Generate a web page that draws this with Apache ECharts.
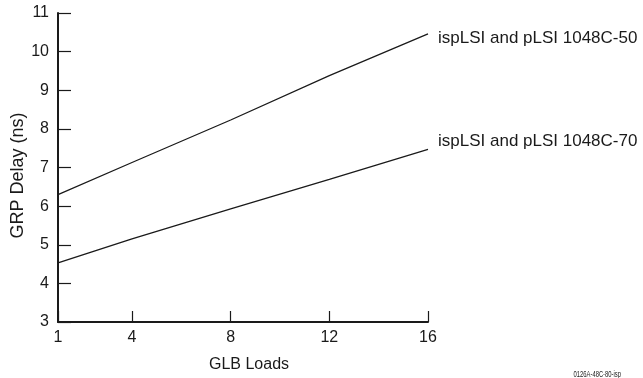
<!DOCTYPE html>
<html>
<head>
<meta charset="utf-8">
<script src="https://cdn.jsdelivr.net/npm/echarts@6/dist/echarts.min.js"></script>
<style>
html,body{margin:0;padding:0;background:#fff;}
#chart{width:643px;height:378px;}
</style>
</head>
<body>
<div id="chart"></div>
<script>
// Data
var glbLoads = [1, 4, 8, 12, 16];
var delay50 = [6.30, 7.13, 8.23, 9.38, 10.46];
var delay70 = [4.53, 5.15, 5.93, 6.69, 7.47];
var xTicks = [1, 4, 8, 12, 16];
var seriesNames = ['ispLSI and pLSI 1048C-50', 'ispLSI and pLSI 1048C-70'];
var xTitle = 'GLB Loads';
var yTitle = 'GRP Delay (ns)';
var footnote = '0126A-48C-80-isp';

var font = '"Liberation Sans", Arial, Helvetica, sans-serif';
var ink = '#1a1a1a';

function pairs(xs, ys) {
  return xs.map(function (x, i) { return [x, ys[i]]; });
}

var chart = echarts.init(document.getElementById('chart'), null, {renderer: 'canvas'});
chart.setOption({
  animation: false,
  backgroundColor: '#ffffff',
  grid: {left: 58, right: 215, top: 13, bottom: 56, containLabel: false, outerBoundsMode: 'none'},
  xAxis: {
    type: 'value',
    min: 1,
    max: 16,
    name: xTitle,
    nameLocation: 'middle',
    nameGap: 35,
    nameMoveOverlap: false,
    nameTextStyle: {fontFamily: font, fontSize: 16, color: ink, padding: [0, 0, 0, 12]},
    axisLine: {show: true, lineStyle: {color: ink, width: 2}},
    axisTick: {show: true, inside: true, length: 11, customValues: xTicks, lineStyle: {color: ink, width: 1.2}},
    axisLabel: {show: true, customValues: xTicks, margin: 8, fontFamily: font, fontSize: 16, color: ink},
    splitLine: {show: false}
  },
  yAxis: {
    type: 'value',
    min: 3,
    max: 11,
    interval: 1,
    name: yTitle,
    nameLocation: 'middle',
    nameGap: 31,
    nameMoveOverlap: false,
    nameTextStyle: {fontFamily: font, fontSize: 18, color: ink, padding: [0, 16, 0, 0]},
    axisLine: {show: true, lineStyle: {color: ink, width: 2}},
    axisTick: {show: true, inside: true, length: 13, lineStyle: {color: ink, width: 1.2}},
    axisLabel: {show: true, margin: 9, fontFamily: font, fontSize: 16, color: ink},
    splitLine: {show: false}
  },
  series: [
    {
      name: seriesNames[0],
      type: 'line',
      data: pairs(glbLoads, delay50),
      showSymbol: false,
      lineStyle: {color: ink, width: 1.3},
      endLabel: {show: true, formatter: seriesNames[0], distance: 10, offset: [0, 4],
        fontFamily: font, fontSize: 17, color: ink}
    },
    {
      name: seriesNames[1],
      type: 'line',
      data: pairs(glbLoads, delay70),
      showSymbol: false,
      lineStyle: {color: ink, width: 1.3},
      endLabel: {show: true, formatter: seriesNames[1], distance: 10, offset: [0, -8],
        fontFamily: font, fontSize: 17, color: ink}
    }
  ],
  graphic: [{
    type: 'text',
    x: 621,
    y: 375,
    scaleX: 0.65,
    style: {text: footnote, fontFamily: font, fontSize: 9, fill: ink,
      textAlign: 'right', textVerticalAlign: 'middle'}
  }]
});
</script>
</body>
</html>
